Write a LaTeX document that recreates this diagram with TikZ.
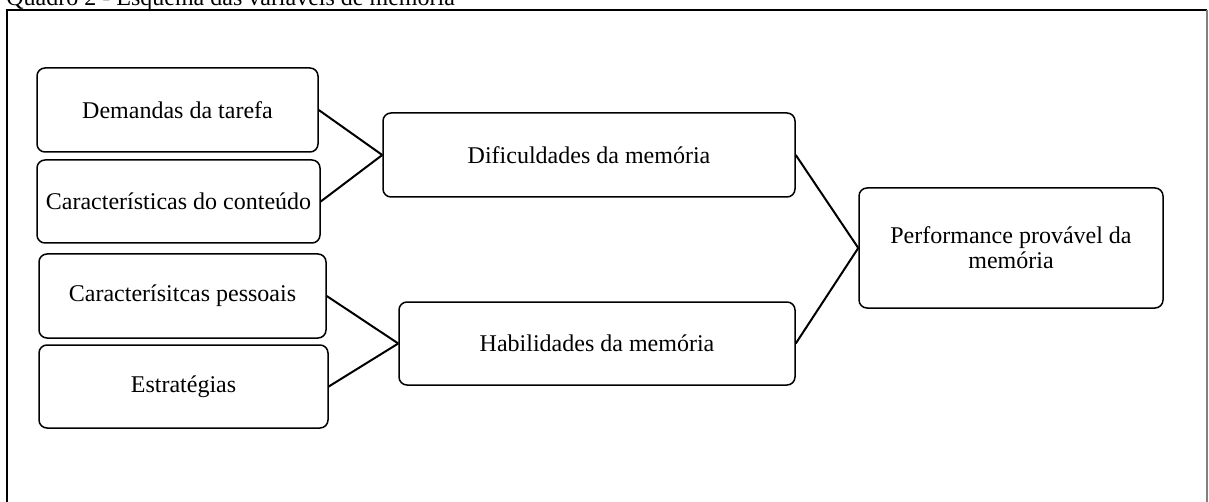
\documentclass[tikz,border=0pt]{standalone}
\usepackage{fontspec}
\setmainfont{Liberation Serif}
\usepackage{tikz}
\usetikzlibrary{calc}

\tikzset{
  bloco/.style={draw, rounded corners=4pt, line width=0.75pt, inner sep=0pt,
    align=center, font=\fontsize{12}{12.5}\selectfont},
  liga/.style={line width=1pt}
}

\begin{document}
\begin{tikzpicture}[x=0.5pt,y=-0.5pt]
        \useasboundingbox (0,0) rectangle (1209,502);
        % moldura e titulo (cortados)
        \node[anchor=base west, inner sep=0pt, font=\fontsize{12}{14}\selectfont] (titulo) at (6,6)
            {Quadro 2 - Esquema das vari\'aveis de mem\'oria};
        \draw[line width=1pt] (7,520) -- (7,10) -- (1207,10);
        \draw[gray, line width=0.6pt] (1207,10) -- (1207,520);
        % caixas
        \node[bloco, minimum width=140.5pt, minimum height=42pt] (demandas) at (177.5,110) {Demandas da tarefa};
        \node[bloco, minimum width=141.5pt, minimum height=41.5pt] (conteudo) at (178.5,201.5) {Caracter\'isticas do conte\'udo};
        \node[bloco, minimum width=143.5pt, minimum height=42pt] (pessoais) at (182.5,296) {Caracter\'isitcas pessoais};
        \node[bloco, minimum width=144.5pt, minimum height=41.5pt] (estrategias) at (183.5,386.5) {Estrat\'egias};
        \node[bloco, minimum width=206pt, minimum height=42pt] (dificuldades) at (589,155) {Dificuldades da mem\'oria};
        \node[bloco, minimum width=198pt, minimum height=41.5pt] (habilidades) at (597,343.5) {Habilidades da mem\'oria};
        \node[bloco, minimum width=152pt, minimum height=60pt] (performance) at (1011,248)
            {Performance prov\'avel da\\mem\'oria};
        % ligacoes
        \foreach \a/\b in {demandas/dificuldades, conteudo/dificuldades,
                           pessoais/habilidades, estrategias/habilidades,
                           dificuldades/performance, habilidades/performance}
        \draw[liga] (\a.east) -- (\b.west);
\end{tikzpicture}
\end{document}
